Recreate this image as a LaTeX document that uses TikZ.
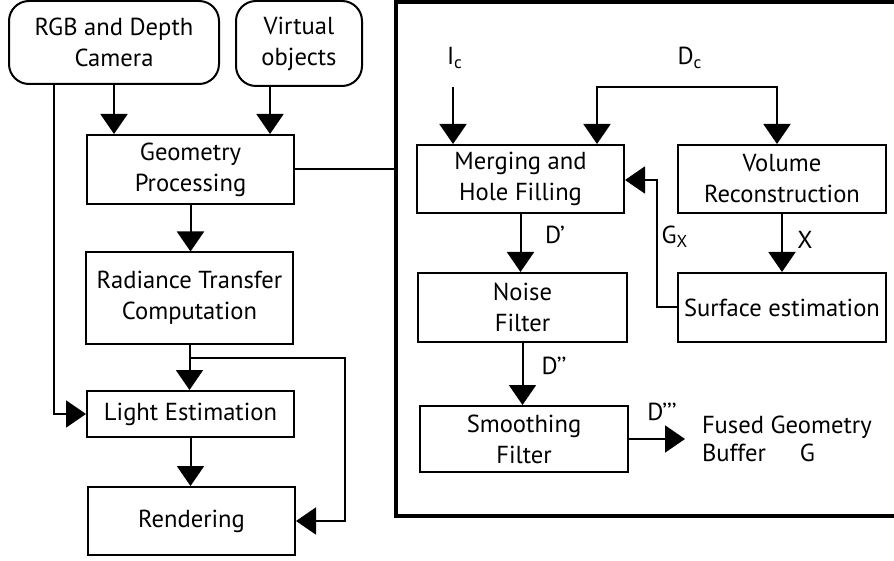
\documentclass[tikz,border=0pt]{standalone}
\usepackage{fontspec}
\setmainfont{PT Sans}
\usetikzlibrary{arrows.meta}

\tikzset{
  blk/.style={draw=black,line width=1pt,minimum width=103.5pt,inner sep=1pt,align=center,font=\fontsize{12.3}{15.5}\selectfont},
  rblk/.style={blk,rounded corners=10pt},
  lbl/.style={inner sep=0pt,font=\fontsize{12.3}{14}\selectfont},
}

\begin{document}
\begin{tikzpicture}[x=0.5pt,y=-0.5pt,line width=1pt,>={Triangle[length=10pt,width=13.5pt]}]
  \useasboundingbox (0,0) rectangle (894,561);

  % pipeline on the left:
  \node[rblk,minimum width=105pt,minimum height=41.5pt] (cam) at (114,42.5) {RGB and Depth\\Camera};
  \node[rblk,minimum width=63pt,minimum height=42.5pt] (virt) at (299,43.5) {Virtual\\objects};
  \node[blk,minimum height=34.5pt] (geom) at (190.5,169.5) {Geometry\\Processing};
  \node[blk,minimum height=45.5pt] (rad) at (189.5,298) {Radiance Transfer\\Computation};
  \node[blk,minimum height=23pt] (light) at (190.5,414) {Light Estimation};
  \node[blk,minimum height=34pt] (rend) at (191.5,521) {Rendering};

  \coordinate (vx) at (270,0);
  \coordinate (cl) at (54,0);
  \coordinate (rb) at (345,358);
  \coordinate (fr) at (396,2);

  \draw[->] (cam.south) -- (cam.south |- geom.north);
  \draw[->] (virt.south -| vx) -- (geom.north -| vx);
  \draw[->] (geom.south) -- (geom.south |- rad.north);
  \draw[->] (rad.south) -- (rad.south |- light.north);
  \draw[->] (rad.south |- rb) -- (rb) |- (rend.east);
  \draw[->] (light.south) -- (light.south |- rend.north);
  \draw[->] (cam.south -| cl) |- (light.west);
  \draw (geom.east) -- (geom.east -| fr);

  % frame of the fusion stage:
  \draw[line width=2pt] (894,2) -- (fr) -- (396,516) -- (894,516);

  \node[blk,minimum height=34pt] (merge) at (520.5,179) {Merging and\\Hole Filling};
  \node[blk,minimum width=104pt,minimum height=34pt] (vol) at (782,179) {Volume\\Reconstruction};
  \node[blk,minimum width=104.5pt,minimum height=34.5pt] (noise) at (522.5,307.5) {Noise\\Filter};
  \node[blk,minimum width=104pt,minimum height=33pt] (smooth) at (524,439) {Smoothing\\Filter};
  \node[blk,minimum width=104pt,minimum height=34.5pt] (surf) at (782,307.5) {Surface estimation};

  \node[lbl] (ic) at (455,58) {I\textsubscript{c}};
  \node[lbl] (dc) at (690,58) {D\textsubscript{c}};
  \node[lbl] (d1) at (555,235) {D’};
  \node[lbl] (gx) at (675,237) {G\textsubscript{X}};
  \node[lbl] (xl) at (805,240) {X};
  \node[lbl] (d2) at (554,366) {D’’};
  \node[lbl] (d3) at (662,412) {D’’’};
  \node[lbl,anchor=west,align=left] (fused) at (701,439) {Fused Geometry\\Buffer\hspace{17pt}G};

  \coordinate (icin) at (453,87);
  \coordinate (dcl) at (597,87);
  \coordinate (dcr) at (777,87);
  \coordinate (gxc) at (657,180);
  \coordinate (fout) at (685,440);

  \draw[->] (icin) -- (icin |- merge.north);
  \draw[<->] (dcl |- merge.north) -- (dcl) -- (dcr) -- (dcr |- vol.north);
  \draw[->] (merge.south) -- (merge.south |- noise.north);
  \draw[->] (noise.south) -- (noise.south |- smooth.north);
  \draw[->] (smooth.east) -- (smooth.east -| fout);
  \draw[->] (vol.south) -- (vol.south |- surf.north);
  \draw[->] (surf.west) -| (gxc) -- (gxc -| merge.east);
\end{tikzpicture}
\end{document}
